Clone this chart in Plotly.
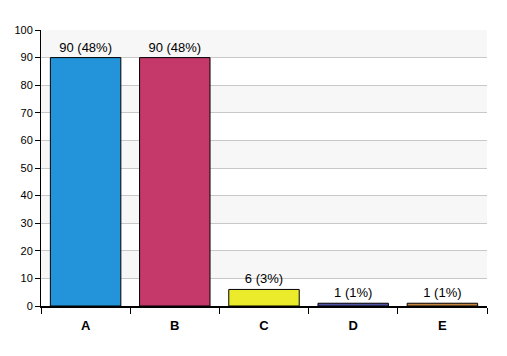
import plotly.graph_objects as go

categories = ["A", "B", "C", "D", "E"]
counts = [90, 90, 6, 1, 1]
percents = [48, 48, 3, 1, 1]
colors = ["#2394d9", "#c4386a", "#ebeb2b", "#5252a2", "#c4853f"]
y_ticks = [0, 10, 20, 30, 40, 50, 60, 70, 80, 90, 100]

labels = [f"{c} ({p}%)" for c, p in zip(counts, percents)]

fig = go.Figure()
fig.add_trace(go.Bar(
    x=categories, y=counts, width=0.79,
    marker=dict(color=colors, line=dict(color="#000000", width=1)),
    text=labels, textposition="outside", cliponaxis=False,
    textfont=dict(family="Liberation Sans, Arial, sans-serif", size=13, color="#000000"),
))

shapes = []
for lo in range(10, 100, 20):
    shapes.append(dict(type="rect", xref="paper", yref="y", x0=0, x1=1,
                       y0=lo, y1=lo + 10, fillcolor="#f7f7f7",
                       line=dict(width=0), layer="below"))
fig.update_layout(
    template="none",
    width=499, height=348,
    margin=dict(l=33, r=20, t=22, b=50, autoexpand=False),
    paper_bgcolor="#ffffff", plot_bgcolor="#ffffff",
    showlegend=False, shapes=shapes, bargap=0.21,
)
fig.update_xaxes(
    automargin=False,
    tickson="boundaries", ticks="outside", ticklen=6, tickcolor="#000000",
    showline=True, linecolor="#000000", linewidth=2, showgrid=False,
    tickfont=dict(family="Liberation Sans, Arial, sans-serif", size=13, color="#000000", weight="bold"),
    ticklabelstandoff=6,
    range=[-0.5, 4.5],
)
fig.update_yaxes(
    automargin=False,
    range=[0, 100], tickvals=y_ticks, ticks="outside", ticklen=5, tickcolor="#000000",
    showline=True, linecolor="#000000", linewidth=1,
    showgrid=True, gridcolor="#c8c8c8", gridwidth=1, zeroline=False,
    tickfont=dict(family="Liberation Sans, Arial, sans-serif", size=11, color="#000000"),
)
fig.write_html("out.html")
